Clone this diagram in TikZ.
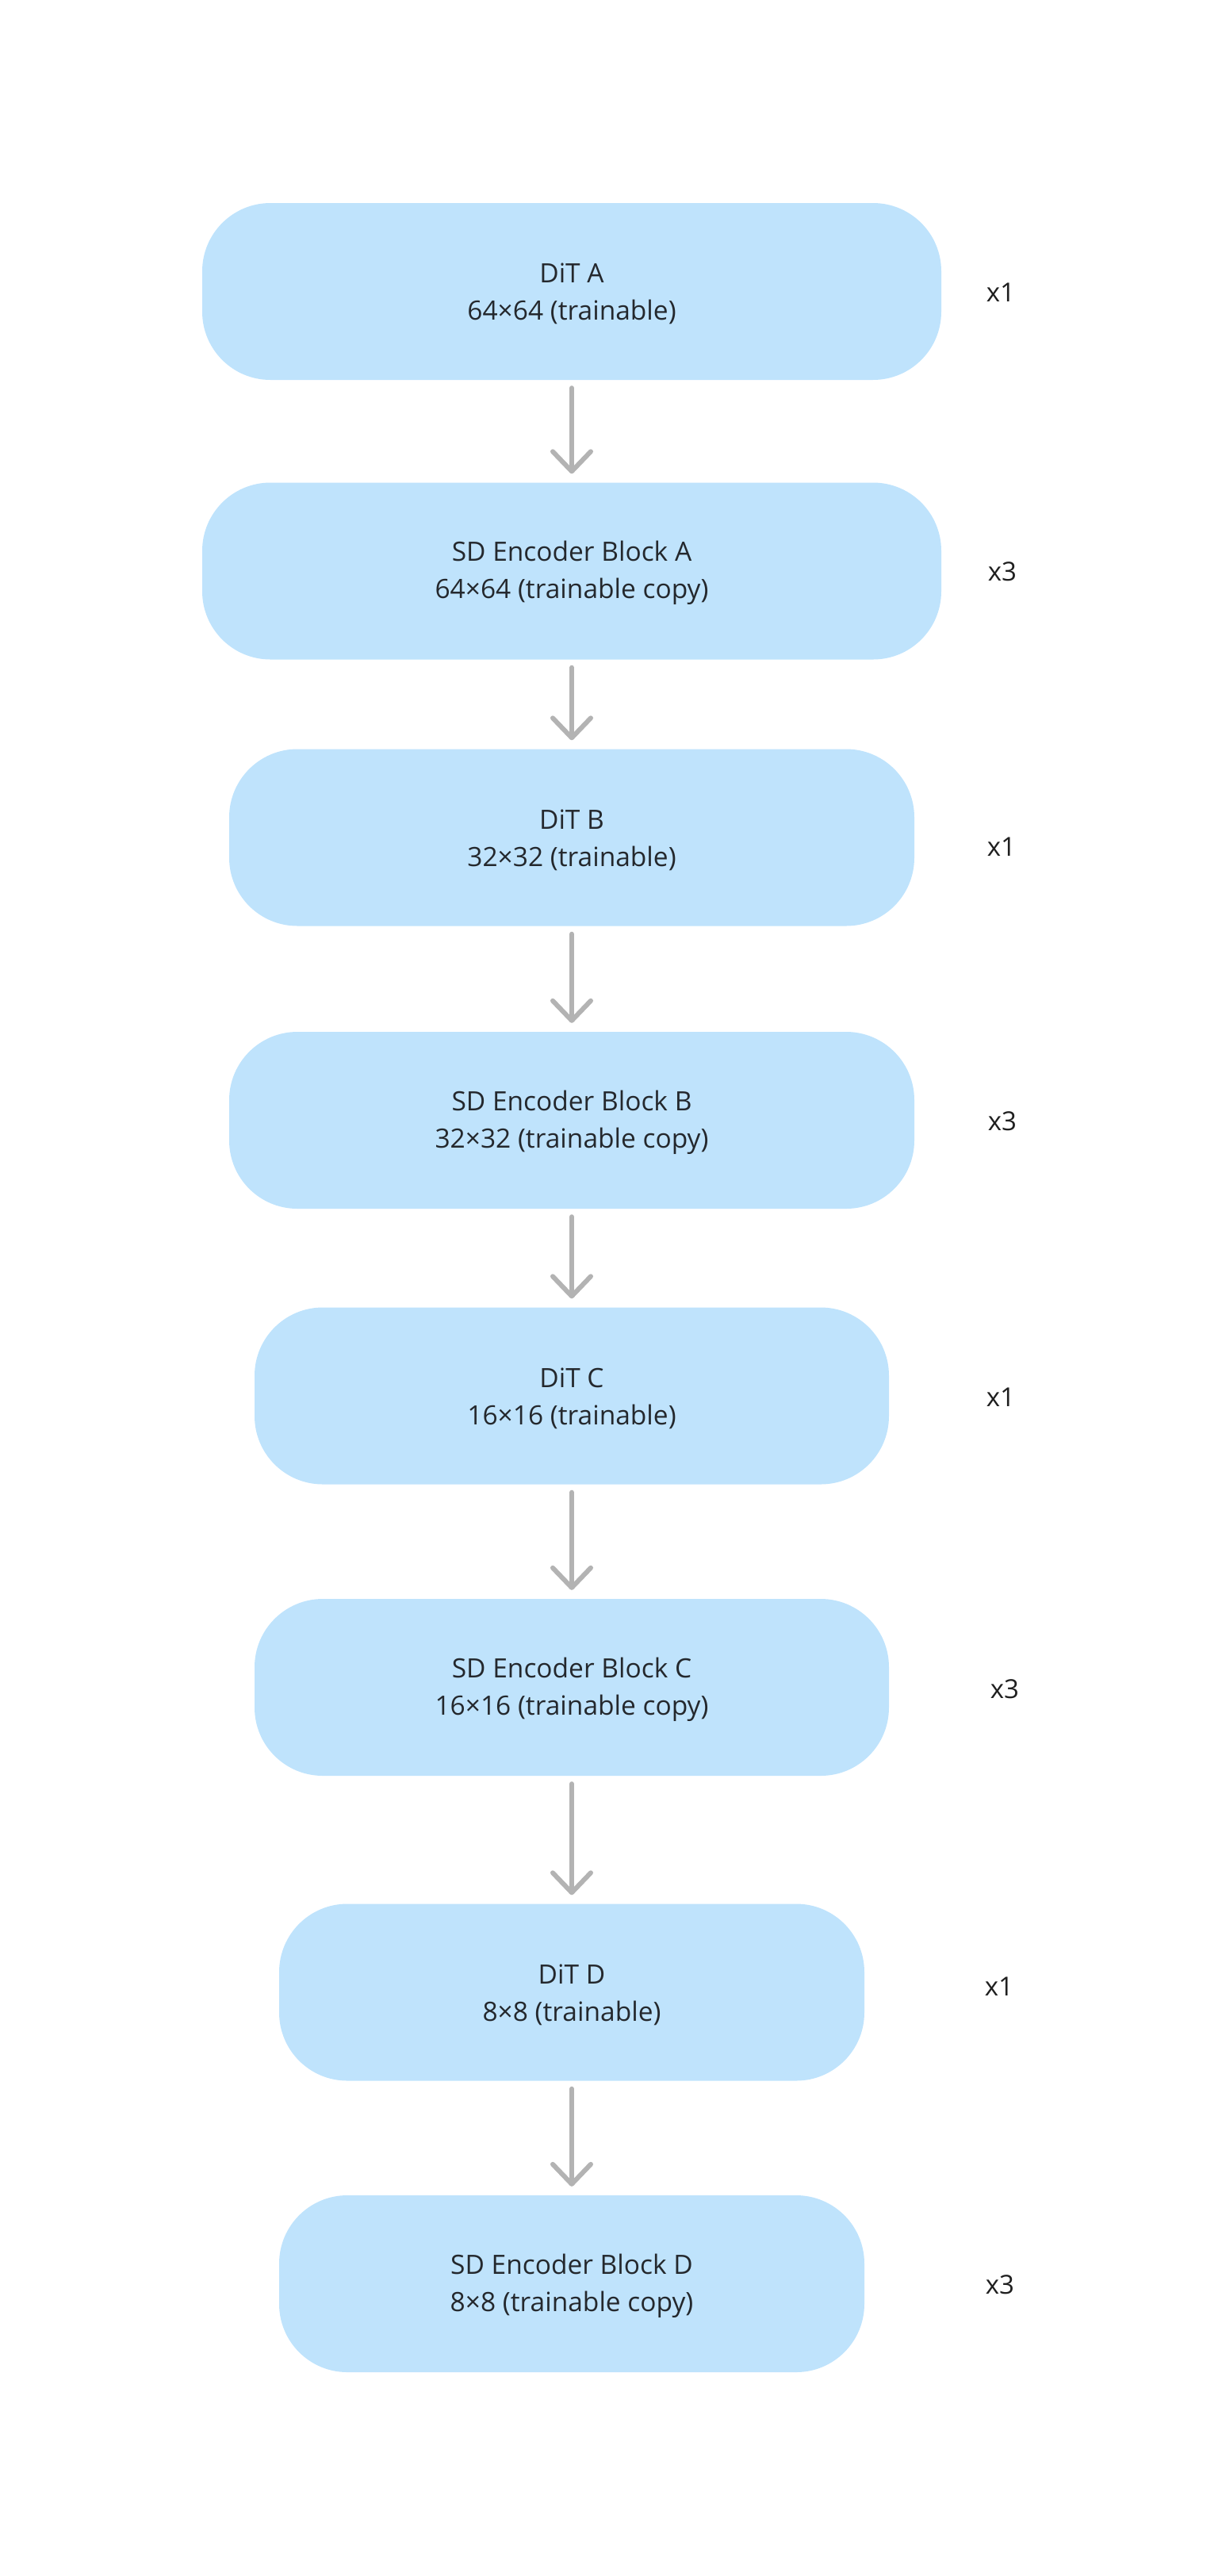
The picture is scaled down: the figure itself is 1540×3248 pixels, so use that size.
\documentclass[tikz,border=0pt]{standalone}
\usepackage{fontspec}
\setmainfont{Open Sans}
\usepackage{xcolor}
\usepackage{tikz}
\usetikzlibrary{arrows.meta}

\definecolor{blockblue}{HTML}{BFE3FC}
\definecolor{arrowgrey}{HTML}{B3B3B3}
\definecolor{textdark}{HTML}{24282D}

% two text lines of a block, first one pushed down a little
\newcommand{\blocklines}[2]{\rule{0pt}{31pt}#1\\#2}

\begin{document}
\begin{tikzpicture}[x=1pt,y=-1pt]
			\tikzstyle{block} = [fill=blockblue, rounded corners=86pt, minimum height=223pt, inner sep=0pt, align=center, text=textdark, font=\fontsize{33.5}{47}\selectfont]
			\tikzstyle{repeat} = [text=black!88, font=\fontsize{33}{38}\selectfont]
			\tikzset{edge/.style = {draw=arrowgrey, line width=6pt, line cap=round, shorten <=10pt, shorten >=11pt, -{Straight Barb[length=25pt, width=48pt, line width=6pt, round]}}}
			
			\useasboundingbox (0,0) rectangle (1540,3248);
			
			\node[block, minimum width=932pt](ditA) at (721,367.5) {\blocklines{DiT A}{64×64 (trainable)}};
			\node[block, minimum width=932pt](encA) at (721,720) {\blocklines{SD Encoder Block A}{64×64 (trainable copy)}};
			\node[block, minimum width=864pt](ditB) at (721,1056) {\blocklines{DiT B}{32×32 (trainable)}};
			\node[block, minimum width=864pt](encB) at (721,1412.5) {\blocklines{SD Encoder Block B}{32×32 (trainable copy)}};
			\node[block, minimum width=800pt](ditC) at (721,1760) {\blocklines{DiT C}{16×16 (trainable)}};
			\node[block, minimum width=800pt](encC) at (721,2127.5) {\blocklines{SD Encoder Block C}{16×16 (trainable copy)}};
			\node[block, minimum width=738pt](ditD) at (721,2512) {\blocklines{DiT D}{8×8 (trainable)}};
			\node[block, minimum width=738pt](encD) at (721,2879.5) {\blocklines{SD Encoder Block D}{8×8 (trainable copy)}};
			
			\draw[edge](ditA) to (encA);
			\draw[edge](encA) to (ditB);
			\draw[edge](ditB) to (encB);
			\draw[edge](encB) to (ditC);
			\draw[edge](ditC) to (encC);
			\draw[edge](encC) to (ditD);
			\draw[edge](ditD) to (encD);
			
			\node[repeat](repA) at (1262,369) {x1};
			\node[repeat](repEncA) at (1264,721) {x3};
			\node[repeat](repB) at (1263,1068) {x1};
			\node[repeat](repEncB) at (1264,1414) {x3};
			\node[repeat](repC) at (1262,1762) {x1};
			\node[repeat](repEncC) at (1267,2130) {x3};
			\node[repeat](repD) at (1260,2505) {x1};
			\node[repeat](repEncD) at (1261,2881) {x3};
			
			\end{tikzpicture}
\end{document}
